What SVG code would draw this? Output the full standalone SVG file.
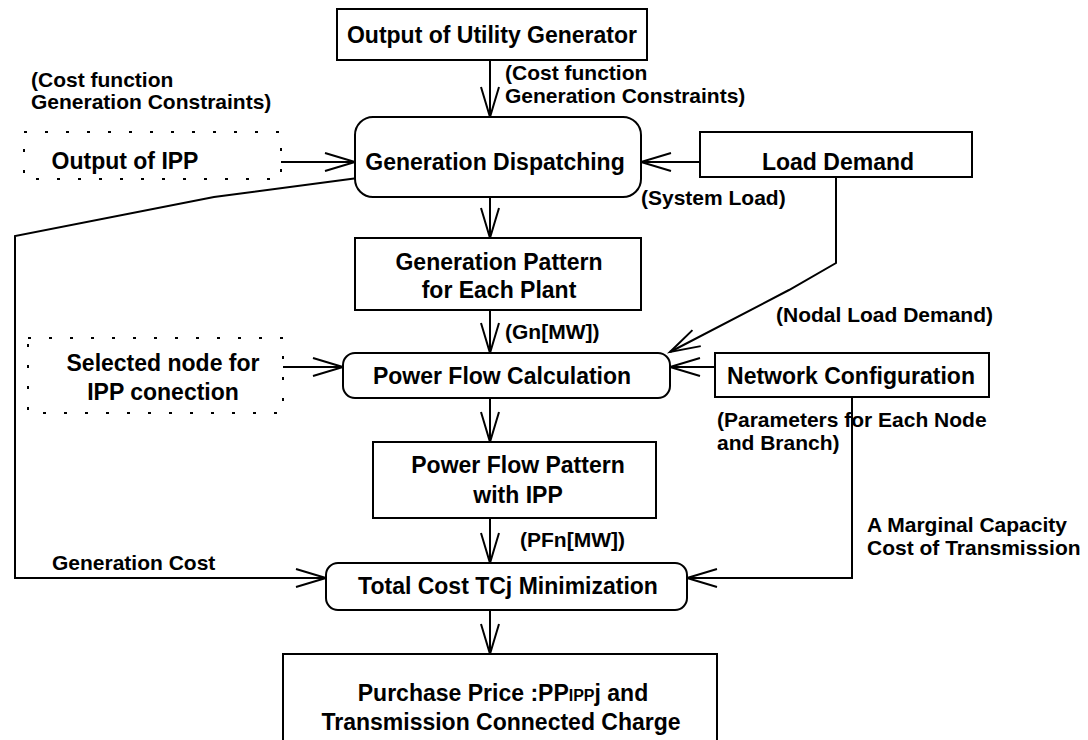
<svg xmlns="http://www.w3.org/2000/svg" width="1088" height="740" viewBox="0 0 1088 740">
<defs>
<marker id="arr" markerUnits="userSpaceOnUse" markerWidth="34" markerHeight="22" refX="30" refY="10" orient="auto" overflow="visible">
<path d="M0,1 L30,10 L0,19" fill="none" stroke="#000" stroke-width="2"/>
</marker>
<style>
.box{fill:#fff;stroke:#000;stroke-width:2}
.dot{fill:none;stroke:#000;stroke-width:2;stroke-dasharray:3 18}
.t{font-family:"Liberation Sans",Arial,sans-serif;font-weight:bold;font-size:23px;fill:#000;text-anchor:middle}
.l{font-family:"Liberation Sans",Arial,sans-serif;font-weight:bold;font-size:21px;fill:#000}
.c{fill:none;stroke:#000;stroke-width:2;marker-end:url(#arr)}
</style>
</defs>
<rect width="1088" height="740" fill="#fff"/>

<g id="connectors">
<path class="c" d="M490,60 L490,117"/>
<path class="c" d="M281,162 L355,162"/>
<path class="c" d="M700,162 L641,162"/>
<path class="c" d="M490,197 L490,238"/>
<path class="c" d="M836,177 L836,263 L789,290 L670,352"/>
<path class="c" d="M490,310 L490,353"/>
<path class="c" d="M283,367 L343,367"/>
<path class="c" d="M715,367 L670,367"/>
<path class="c" d="M490,398 L490,442"/>
<path class="c" d="M490,518 L490,563"/>
<path class="c" d="M490,610 L490,654"/>
<path class="c" d="M358,178 L214,197 L15,236 L15,578 L326,578"/>
<path class="c" d="M852,397 L852,578 L687,578"/>
</g>

<g id="labels">
<text class="l" x="505" y="80">(Cost function</text>
<text class="l" x="505" y="103">Generation Constraints)</text>
<text class="l" x="31" y="87">(Cost function</text>
<text class="l" x="31" y="109">Generation Constraints)</text>
<text class="l" x="641" y="205">(System Load)</text>
<text class="l" x="776" y="322">(Nodal Load Demand)</text>
<text class="l" x="505" y="339">(Gn[MW])</text>
<text class="l" x="717" y="427">(Parameters for Each Node</text>
<text class="l" x="717" y="450">and Branch)</text>
<text class="l" x="867" y="532">A Marginal Capacity</text>
<text class="l" x="867" y="555">Cost of Transmission</text>
<text class="l" x="520" y="547">(PFn[MW])</text>
<text class="l" x="52" y="570">Generation Cost</text>
</g>

<g id="utility">
<rect class="box" x="337" y="9" width="310" height="51"/>
<text class="t" x="492" y="43">Output of Utility Generator</text>
</g>

<g id="ipp">
<rect class="dot" x="24" y="132" width="257" height="47"/>
<text class="t" x="125" y="169">Output of IPP</text>
</g>

<g id="dispatch">
<rect class="box" x="355" y="117" width="286" height="80" rx="18"/>
<text class="t" x="495" y="170">Generation Dispatching</text>
</g>

<g id="load">
<rect class="box" x="700" y="132" width="272" height="45"/>
<text class="t" x="838" y="170">Load Demand</text>
</g>

<g id="genpattern">
<rect class="box" x="355" y="238" width="286" height="72"/>
<text class="t" x="499" y="270">Generation Pattern</text>
<text class="t" x="499" y="298">for Each Plant</text>
</g>

<g id="selected">
<rect class="dot" x="28" y="338" width="255" height="75"/>
<text class="t" x="163" y="371">Selected node for</text>
<text class="t" x="163" y="400">IPP conection</text>
</g>

<g id="powerflow">
<rect class="box" x="343" y="353" width="327" height="45" rx="12"/>
<text class="t" x="502" y="384">Power Flow Calculation</text>
</g>

<g id="network">
<rect class="box" x="715" y="353" width="274" height="44"/>
<text class="t" x="851" y="384">Network Configuration</text>
</g>

<g id="pfpattern">
<rect class="box" x="373" y="442" width="283" height="76"/>
<text class="t" x="518" y="473">Power Flow Pattern</text>
<text class="t" x="518" y="503">with IPP</text>
</g>

<g id="totalcost">
<rect class="box" x="326" y="563" width="361" height="47" rx="12"/>
<text class="t" x="508" y="594">Total Cost TCj Minimization</text>
</g>

<g id="purchase">
<rect class="box" x="283" y="654" width="434" height="100"/>
<text class="t" x="503" y="701">Purchase Price :PP<tspan font-size="16px">IPP</tspan>j and</text>
<text class="t" x="501" y="730">Transmission Connected Charge</text>
</g>
</svg>
